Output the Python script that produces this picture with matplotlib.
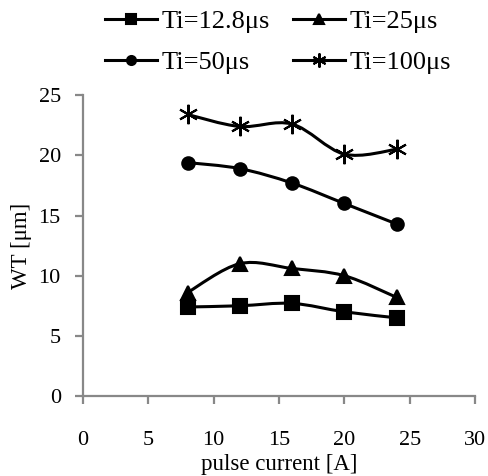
import matplotlib
matplotlib.use("Agg")
import matplotlib.pyplot as plt
from matplotlib.path import Path
from matplotlib.patches import PathPatch
from matplotlib.lines import Line2D
import numpy as np

plt.rcParams["font.family"] = ["Liberation Serif", "DejaVu Serif"]

current = [8, 12, 16, 20, 24]
wt_12_8 = [7.4, 7.5, 7.7, 7.0, 6.5]
wt_25 = [8.6, 11.0, 10.6, 10.0, 8.2]
wt_50 = [19.4, 18.9, 17.7, 16.0, 14.3]
wt_100 = [23.4, 22.4, 22.6, 20.1, 20.5]

series = [
    ("Ti=12.8\u03bcs", wt_12_8, "s", 9.5),
    ("Ti=25\u03bcs", wt_25, "^", 10),
    ("Ti=50\u03bcs", wt_50, "o", 9),
    ("Ti=100\u03bcs", wt_100, (6, 2, 0), 14),
]


def smooth_path(x, y):
    # Excel-like smoothed line: cubic Bezier segments through the points
    pts = np.column_stack([x, y]).astype(float)
    n = len(pts)
    verts = [pts[0]]
    codes = [Path.MOVETO]
    for i in range(n - 1):
        p0 = pts[max(i - 1, 0)]
        p1 = pts[i]
        p2 = pts[i + 1]
        p3 = pts[min(i + 2, n - 1)]
        c1 = p1 + (p2 - p0) / 6.0
        c2 = p2 - (p3 - p1) / 6.0
        verts += [c1, c2, p2]
        codes += [Path.CURVE4] * 3
    return Path(verts, codes)


fig = plt.figure(figsize=(4.89, 4.76), dpi=100)
ax = fig.add_axes([0.1697, 0.168, 0.8016, 0.632])

handles = {}
for label, vals, marker, ms in series:
    ax.add_patch(PathPatch(smooth_path(current, vals), facecolor="none",
                           edgecolor="black", lw=2.2, zorder=2))
    ax.plot(current, vals, linestyle="none", marker=marker, ms=ms,
            color="black", mec="black", mew=1.5, zorder=3)
    handles[label] = Line2D([], [], color="black", lw=2.2, marker=marker,
                            ms=ms * 0.72, mew=1.5, label=label)

ax.set_xlim(0, 30)
ax.set_ylim(0, 25)
ax.set_xticks(range(0, 31, 5))
ax.set_yticks(range(0, 26, 5))
for side in ["top", "right"]:
    ax.spines[side].set_visible(False)
for side in ["left", "bottom"]:
    ax.spines[side].set_color("#888888")
    ax.spines[side].set_linewidth(1.6)
ax.tick_params(direction="out", color="#888888", width=1.6, length=6,
               labelsize=16)
ax.tick_params(axis="x", pad=19)
ax.tick_params(axis="y", pad=10)
ax.set_xlabel("pulse current [A]", fontsize=16.5, labelpad=3)
ax.set_ylabel("WT [\u03bcm]", fontsize=16.5, labelpad=5)

# matplotlib fills legend columns first; reference reads row by row
order = ["Ti=12.8\u03bcs", "Ti=50\u03bcs", "Ti=25\u03bcs", "Ti=100\u03bcs"]
fig.legend(handles=[handles[k] for k in order], ncol=2, loc="upper left",
           bbox_to_anchor=(105 / 489, 0.979), frameon=False, fontsize=19,
           borderpad=0, borderaxespad=0,
           handlelength=1.97, handletextpad=0.19, columnspacing=0.85,
           labelspacing=0.65)

fig.savefig("out.png", dpi=100)
